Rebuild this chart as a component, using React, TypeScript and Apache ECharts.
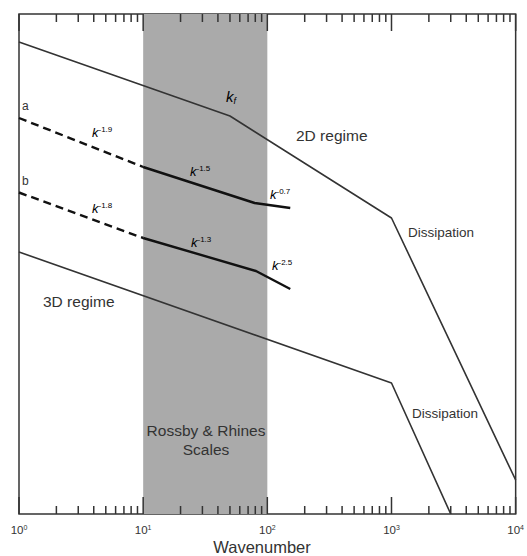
import React, { useEffect, useRef } from "react";
import * as echarts from "echarts";

// ---- data ----
const decades = [1, 10, 100, 1000];
const mantissas = [1, 2, 3, 4, 5, 6, 7, 8, 9];
const lastTick = 10000;
const bandRange = [10, 100];

const regime2DX = [1, 50, 1000, 10000];
const regime2DY = [94.4, 79.6, 59.2, 6.8];
const regime3DX = [1, 1000, 3000];
const regime3DY = [52.4, 26.2, 0];

const aDashX = [1, 10];
const aDashY = [79.2, 69.4];
const aSolidX = [10, 79, 153];
const aSolidY = [69.4, 62.2, 61.2];

const bDashX = [1, 10];
const bDashY = [64.3, 55.2];
const bSolidX = [10, 81, 153];
const bSolidY = [55.2, 48.6, 45.0];

const FONT = "Liberation Sans, Arial, sans-serif";
const TXT = "#333";

const pairs = (xs: number[], ys: number[]) => xs.map((x, i) => [x, ys[i]]);

const tickData: number[][] = [];
decades.forEach((d) => mantissas.forEach((m) => tickData.push([m * d, m === 1 ? 1 : 0])));
tickData.push([lastTick, 1]);

const supRich = (base: number, sup: number, italic: boolean) => ({
  k: { fontSize: base, fontStyle: italic ? "italic" : "normal", fontFamily: FONT, color: TXT, lineHeight: base + 1 },
  s: { fontSize: sup, fontFamily: FONT, color: TXT, verticalAlign: "top", lineHeight: base + 1 },
});

function kLabel(x: number, y: number, exp: string) {
  return {
    type: "text",
    x,
    y,
    z: 100,
    style: {
      text: "{k|k}{s|" + exp + "}",
      rich: supRich(13, 8, true),
      align: "left",
      verticalAlign: "middle",
    },
  };
}

function plainText(x: number, y: number, text: string, size: number, align = "left") {
  return {
    type: "text",
    x,
    y,
    z: 100,
    style: { text, fontSize: size, fontFamily: FONT, fill: TXT, align, verticalAlign: "middle", lineHeight: size + 2 },
  };
}

export default function App() {
  const ref = useRef<HTMLDivElement>(null);
  useEffect(() => {
    const chart = echarts.init(ref.current!, null, { renderer: "svg" });
    const solidLine = (name: string, data: number[][], w: number, color: string, type: any = "solid") => ({
      name,
      type: "line",
      data,
      symbol: "none",
      silent: true,
      lineStyle: { width: w, color, type },
      z: 5,
    });
    chart.setOption({
      animation: false,
      grid: { left: 19, right: 10, top: 14, bottom: 42, show: true, borderColor: "#333", borderWidth: 1.5, backgroundColor: "transparent" },
      xAxis: {
        type: "log",
        logBase: 10,
        min: 1,
        max: 10000,
        splitNumber: 4,
        axisLine: { show: false },
        axisTick: { show: false },
        splitLine: { show: false },
        axisLabel: {
          margin: 10,
          formatter: (v: number) => "{k|10}{s|" + Math.round(Math.log10(v)) + "}",
          rich: supRich(11.5, 7, false),
        },
      },
      yAxis: {
        type: "value",
        min: 0,
        max: 100,
        axisLine: { show: false },
        axisTick: { show: false },
        axisLabel: { show: false },
        splitLine: { show: false },
      },
      series: [
        {
          type: "line",
          data: [],
          markArea: {
            silent: true,
            itemStyle: { color: "#aaaaaa" },
            data: [[{ xAxis: bandRange[0] }, { xAxis: bandRange[1] }]],
          },
          z: 1,
        },
        {
          type: "custom",
          data: tickData,
          silent: true,
          z: 6,
          renderItem: (params: any, api: any) => {
            const x = api.value(0);
            const major = api.value(1) === 1;
            const len = major ? 17 : 8;
            const pb = api.coord([x, 0]);
            const pt = api.coord([x, 100]);
            const st = { stroke: "#333", lineWidth: 1.5 };
            return {
              type: "group",
              children: [
                { type: "line", shape: { x1: pb[0], y1: pb[1], x2: pb[0], y2: pb[1] - len }, style: st },
                { type: "line", shape: { x1: pt[0], y1: pt[1], x2: pt[0], y2: pt[1] + len }, style: st },
              ],
            };
          },
        },
        solidLine("2D", pairs(regime2DX, regime2DY), 1.6, "#333"),
        solidLine("3D", pairs(regime3DX, regime3DY), 1.6, "#333"),
        solidLine("aDash", pairs(aDashX, aDashY), 2.4, "#111", [8, 5]),
        solidLine("aSolid", pairs(aSolidX, aSolidY), 2.4, "#111"),
        solidLine("bDash", pairs(bDashX, bDashY), 2.4, "#111", [8, 5]),
        solidLine("bSolid", pairs(bSolidX, bSolidY), 2.4, "#111"),
      ],
      graphic: [
        plainText(22, 106, "a", 12),
        plainText(22, 181, "b", 12),
        kLabel(92, 132, "-1.9"),
        kLabel(190, 171, "-1.5"),
        kLabel(270, 194, "-0.7"),
        kLabel(92, 208, "-1.8"),
        kLabel(191, 242, "-1.3"),
        kLabel(272, 265, "-2.5"),
        {
          type: "text",
          x: 226,
          y: 96,
          z: 100,
          style: {
            text: "{k|k}{f|f}",
            rich: {
              k: { fontSize: 15, fontStyle: "italic", fontFamily: FONT, color: TXT, lineHeight: 18 },
              f: { fontSize: 9, fontStyle: "italic", fontFamily: FONT, color: TXT, verticalAlign: "bottom", lineHeight: 18 },
            },
            align: "left",
            verticalAlign: "middle",
          },
        },
        plainText(296, 135, "2D regime", 15.5),
        plainText(43, 301, "3D regime", 15.5),
        plainText(408, 232, "Dissipation", 13.5),
        plainText(412, 413, "Dissipation", 13.5),
        plainText(206, 430, "Rossby & Rhines", 15.5, "center"),
        plainText(206, 449, "Scales", 15.5, "center"),
        plainText(262, 547, "Wavenumber", 16.5, "center"),
      ],
    });
    return () => chart.dispose();
  }, []);
  return <div ref={ref} style={{ position: "absolute", left: 0, top: 0, width: 527, height: 556 }} />;
}
